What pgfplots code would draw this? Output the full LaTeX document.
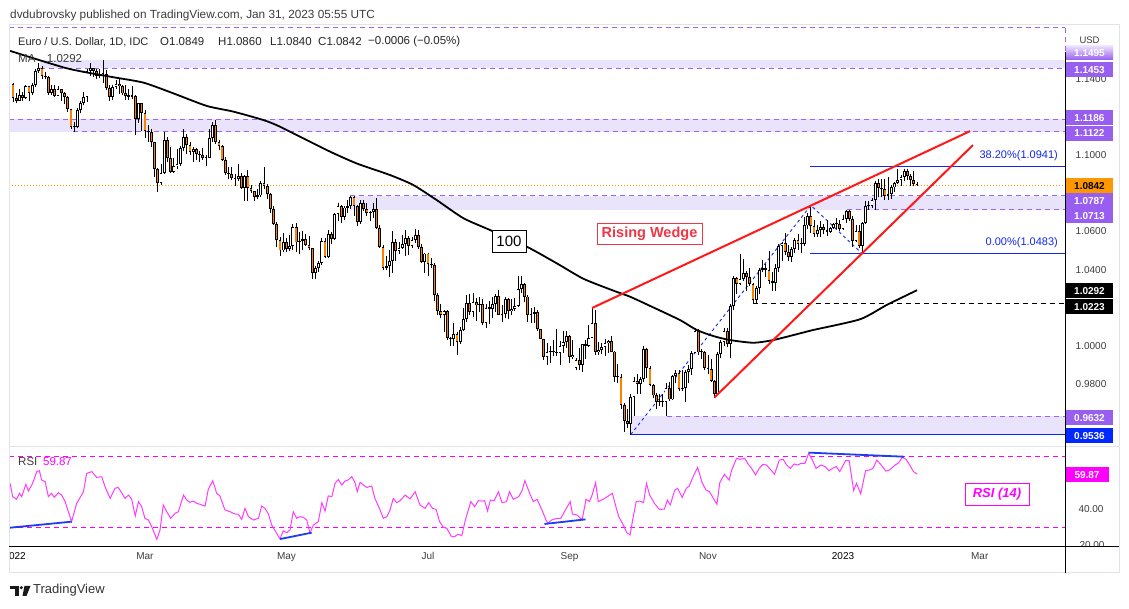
\documentclass[border=0pt]{standalone}
\usepackage{pgfplots}
\pgfplotsset{compat=1.18}
\usepackage{pgfplotstable}
\usepackage{fontspec}
\setmainfont{Liberation Sans}

\definecolor{bandfill}{RGB}{233,227,252}
\definecolor{banddash}{RGB}{155,100,245}
\definecolor{bandbox}{RGB}{152,94,240}
\definecolor{candleorange}{RGB}{250,130,0}
\definecolor{curorange}{RGB}{255,152,0}
\definecolor{wedgered}{RGB}{255,25,25}
\definecolor{labelred}{RGB}{242,54,69}
\definecolor{fibblue}{RGB}{20,40,235}
\definecolor{lowblue}{RGB}{0,40,255}
\definecolor{rsimag}{RGB}{255,60,255}
\definecolor{rsidash}{RGB}{255,0,255}
\definecolor{divblue}{RGB}{30,60,240}
\definecolor{framegray}{RGB}{224,227,235}
\definecolor{txtgray}{RGB}{60,60,60}

\newcommand\fs[1]{\fontsize{#1}{#1}\selectfont}

\pgfplotsset{
  candle/.style={draw=none, mark=none, forget plot,
    error bars/.cd, y dir=plus, y explicit, error mark=none,
    error bar style={solid, line cap=butt, #1}},
}

% EUR/USD daily candles, index 0 = 3 Jan 2022
\pgfplotstableread{
i o h l c
0 1.1370 1.1376 1.1280 1.1296
1 1.1296 1.1322 1.1273 1.1285
2 1.1285 1.1346 1.1284 1.1312
3 1.1312 1.1332 1.1285 1.1297
4 1.1297 1.1364 1.1292 1.1360
5 1.1360 1.1362 1.1285 1.1325
6 1.1325 1.1375 1.1314 1.1368
7 1.1368 1.1449 1.1356 1.1442
8 1.1442 1.1482 1.1428 1.1455
9 1.1455 1.1464 1.1399 1.1413
10 1.1413 1.1434 1.1397 1.1409
11 1.1409 1.1414 1.1313 1.1325
12 1.1325 1.1368 1.1313 1.1344
13 1.1344 1.1369 1.1303 1.1311
14 1.1311 1.1363 1.1310 1.1344
15 1.1344 1.1347 1.1285 1.1325
16 1.1325 1.1330 1.1265 1.1302
17 1.1302 1.1308 1.1226 1.1241
18 1.1241 1.1243 1.1135 1.1145
19 1.1145 1.1174 1.1121 1.1145
20 1.1145 1.1247 1.1139 1.1234
21 1.1234 1.1281 1.1218 1.1272
22 1.1272 1.1331 1.1260 1.1303
23 1.1303 1.1451 1.1280 1.1440
24 1.1440 1.1483 1.1412 1.1455
25 1.1455 1.1457 1.1409 1.1441
26 1.1441 1.1448 1.1398 1.1415
27 1.1415 1.1449 1.1404 1.1423
28 1.1423 1.1495 1.1375 1.1425
29 1.1425 1.1444 1.1340 1.1349
30 1.1349 1.1367 1.1281 1.1306
31 1.1306 1.1366 1.1290 1.1358
32 1.1358 1.1395 1.1345 1.1374
33 1.1374 1.1396 1.1320 1.1360
34 1.1360 1.1367 1.1313 1.1322
35 1.1322 1.1367 1.1286 1.1307
36 1.1307 1.1343 1.1287 1.1306
37 1.1306 1.1360 1.1293 1.1307
38 1.1307 1.1312 1.1106 1.1191
39 1.1191 1.1274 1.1168 1.1272
40 1.1272 1.1272 1.1126 1.1219
41 1.1219 1.1234 1.1090 1.1125
42 1.1125 1.1155 1.1070 1.1120
43 1.1120 1.1134 1.1040 1.1066
44 1.1066 1.1067 1.0885 1.0929
45 1.0929 1.0932 1.0806 1.0855
46 1.0855 1.0955 1.0845 1.0905
47 1.0905 1.1121 1.0901 1.1076
48 1.1076 1.1096 1.0962 1.0983
49 1.0983 1.1040 1.0904 1.0912
50 1.0912 1.0982 1.0905 1.0942
51 1.0942 1.1030 1.0927 1.0955
52 1.0955 1.1045 1.0942 1.1035
53 1.1035 1.1137 1.1023 1.1092
54 1.1092 1.1112 1.1003 1.1050
55 1.1050 1.1070 1.1002 1.1016
56 1.1016 1.1043 1.0962 1.1030
57 1.1030 1.1038 1.0976 1.1005
58 1.1005 1.1023 1.0964 1.0998
59 1.0998 1.1037 1.0975 1.0983
60 1.0983 1.0999 1.0944 1.0984
61 1.0984 1.1137 1.0983 1.1087
62 1.1087 1.1171 1.1067 1.1157
63 1.1157 1.1185 1.1060 1.1067
64 1.1067 1.1076 1.1026 1.1046
65 1.1046 1.1053 1.0968 1.0972
66 1.0972 1.0988 1.0897 1.0905
67 1.0905 1.0935 1.0872 1.0900
68 1.0900 1.0937 1.0868 1.0878
69 1.0878 1.0898 1.0836 1.0876
70 1.0876 1.0955 1.0865 1.0888
71 1.0888 1.0905 1.0822 1.0827
72 1.0827 1.0893 1.0758 1.0888
73 1.0888 1.0924 1.0757 1.0827
74 1.0827 1.0845 1.0800 1.0810
75 1.0810 1.0812 1.0760 1.0778
76 1.0778 1.0822 1.0769 1.0788
77 1.0788 1.0866 1.0778 1.0853
78 1.0853 1.0936 1.0823 1.0836
79 1.0836 1.0848 1.0770 1.0796
80 1.0796 1.0799 1.0697 1.0715
81 1.0715 1.0735 1.0634 1.0638
82 1.0638 1.0650 1.0516 1.0557
83 1.0557 1.0572 1.0471 1.0500
84 1.0500 1.0594 1.0491 1.0545
85 1.0545 1.0565 1.0491 1.0506
86 1.0506 1.0579 1.0495 1.0525
87 1.0525 1.0640 1.0505 1.0625
88 1.0625 1.0642 1.0493 1.0542
89 1.0542 1.0598 1.0483 1.0550
90 1.0550 1.0601 1.0503 1.0560
91 1.0560 1.0588 1.0525 1.0530
92 1.0530 1.0578 1.0503 1.0512
93 1.0512 1.0515 1.0353 1.0380
94 1.0380 1.0421 1.0349 1.0410
95 1.0410 1.0446 1.0389 1.0436
96 1.0436 1.0563 1.0426 1.0552
97 1.0552 1.0564 1.0461 1.0465
98 1.0465 1.0607 1.0462 1.0585
99 1.0585 1.0598 1.0532 1.0562
100 1.0562 1.0697 1.0557 1.0690
101 1.0690 1.0748 1.0657 1.0735
102 1.0735 1.0736 1.0643 1.0676
103 1.0676 1.0733 1.0660 1.0725
104 1.0725 1.0765 1.0695 1.0733
105 1.0733 1.0787 1.0719 1.0780
106 1.0780 1.0787 1.0680 1.0733
107 1.0733 1.0737 1.0627 1.0650
108 1.0650 1.0765 1.0641 1.0750
109 1.0750 1.0765 1.0706 1.0718
110 1.0718 1.0750 1.0683 1.0696
111 1.0696 1.0708 1.0653 1.0704
112 1.0704 1.0749 1.0672 1.0715
113 1.0715 1.0773 1.0612 1.0617
114 1.0617 1.0634 1.0514 1.0518
115 1.0518 1.0530 1.0398 1.0409
116 1.0409 1.0470 1.0397 1.0418
117 1.0418 1.0505 1.0359 1.0445
118 1.0445 1.0601 1.0381 1.0546
119 1.0546 1.0561 1.0443 1.0496
120 1.0496 1.0545 1.0484 1.0514
121 1.0514 1.0583 1.0509 1.0535
122 1.0535 1.0606 1.0469 1.0565
123 1.0565 1.0577 1.0474 1.0522
124 1.0522 1.0569 1.0514 1.0554
125 1.0554 1.0615 1.0539 1.0583
126 1.0583 1.0606 1.0510 1.0518
127 1.0518 1.0534 1.0437 1.0442
128 1.0442 1.0487 1.0382 1.0484
129 1.0484 1.0487 1.0366 1.0428
130 1.0428 1.0463 1.0407 1.0425
131 1.0425 1.0436 1.0235 1.0266
132 1.0266 1.0276 1.0161 1.0184
133 1.0184 1.0220 1.0144 1.0160
134 1.0160 1.0186 1.0072 1.0185
135 1.0185 1.0190 1.0033 1.0040
136 1.0040 1.0045 0.9999 1.0036
137 1.0036 1.0120 0.9998 1.0061
138 1.0061 1.0071 0.9952 1.0019
139 1.0019 1.0097 1.0008 1.0083
140 1.0083 1.0200 1.0078 1.0141
141 1.0141 1.0269 1.0123 1.0226
142 1.0226 1.0273 1.0160 1.0178
143 1.0178 1.0278 1.0154 1.0229
144 1.0229 1.0253 1.0130 1.0212
145 1.0212 1.0258 1.0180 1.0221
146 1.0221 1.0248 1.0108 1.0121
147 1.0121 1.0219 1.0096 1.0200
148 1.0200 1.0234 1.0113 1.0196
149 1.0196 1.0254 1.0144 1.0222
150 1.0222 1.0274 1.0180 1.0260
151 1.0260 1.0294 1.0161 1.0164
152 1.0164 1.0212 1.0123 1.0167
153 1.0167 1.0254 1.0145 1.0246
154 1.0246 1.0253 1.0141 1.0181
155 1.0181 1.0248 1.0160 1.0195
156 1.0195 1.0249 1.0185 1.0211
157 1.0211 1.0368 1.0204 1.0297
158 1.0297 1.0368 1.0275 1.0322
159 1.0322 1.0330 1.0229 1.0259
160 1.0259 1.0268 1.0123 1.0160
161 1.0160 1.0201 1.0122 1.0170
162 1.0170 1.0202 1.0120 1.0178
163 1.0178 1.0189 1.0080 1.0088
164 1.0088 1.0090 1.0034 1.0037
165 1.0037 1.0039 0.9926 0.9940
166 0.9940 1.0018 0.9901 0.9966
167 0.9966 0.9999 0.9910 0.9970
168 0.9970 1.0030 0.9949 0.9967
169 0.9967 1.0090 0.9950 0.9965
170 0.9965 1.0028 0.9900 1.0001
171 1.0001 1.0079 0.9965 1.0019
172 1.0019 1.0080 0.9990 1.0054
173 1.0054 1.0057 0.9910 0.9944
174 0.9944 1.0033 0.9932 0.9955
175 0.9885 0.9935 0.9876 0.9927
176 0.9927 0.9988 0.9875 0.9902
177 0.9902 1.0012 0.9863 1.0010
178 1.0010 1.0030 0.9930 1.0001
179 1.0001 1.0112 0.9995 1.0042
180 1.0042 1.0198 1.0040 1.0121
181 1.0121 1.0187 0.9955 0.9968
182 0.9968 1.0019 0.9955 0.9980
183 0.9980 1.0017 0.9956 0.9995
184 0.9995 1.0037 0.9945 1.0015
185 1.0015 1.0030 0.9965 1.0028
186 1.0028 1.0051 0.9967 0.9971
187 0.9971 0.9976 0.9810 0.9838
188 0.9838 0.9907 0.9807 0.9837
189 0.9837 0.9852 0.9668 0.9689
190 0.9689 0.9699 0.9552 0.9608
191 0.9608 0.9669 0.9573 0.9592
192 0.9592 0.9749 0.9536 0.9735
193 0.9735 0.9838 0.9636 0.9815
194 0.9815 0.9853 0.9749 0.9802
195 0.9802 0.9838 0.9751 0.9826
196 0.9826 0.9999 0.9813 0.9986
197 0.9986 0.9990 0.9835 0.9885
198 0.9885 0.9894 0.9788 0.9794
199 0.9794 0.9799 0.9727 0.9741
200 0.9741 0.9752 0.9669 0.9706
201 0.9706 0.9749 0.9686 0.9706
202 0.9706 0.9749 0.9681 0.9706
203 0.9706 0.9807 0.9632 0.9779
204 0.9779 0.9809 0.9711 0.9720
205 0.9720 0.9850 0.9716 0.9842
206 0.9842 0.9875 0.9804 0.9859
207 0.9859 0.9875 0.9763 0.9773
208 0.9773 0.9873 0.9766 0.9780
209 0.9780 0.9873 0.9705 0.9862
210 0.9862 0.9898 0.9808 0.9878
211 0.9878 0.9976 0.9850 0.9965
212 0.9965 1.0094 0.9961 1.0078
213 1.0078 1.0088 0.9952 0.9966
214 0.9966 0.9986 0.9932 0.9966
215 0.9966 0.9976 0.9873 0.9884
216 0.9884 0.9953 0.9854 0.9877
217 0.9877 0.9931 0.9810 0.9818
218 0.9818 0.9820 0.9730 0.9749
219 0.9749 0.9966 0.9745 0.9960
220 0.9960 1.0033 0.9935 1.0021
221 1.0021 1.0093 0.9998 1.0076
222 1.0076 1.0096 0.9994 1.0010
223 1.0010 1.0222 0.9935 1.0209
224 1.0209 1.0364 1.0187 1.0355
225 1.0355 1.0363 1.0271 1.0325
226 1.0325 1.0481 1.0317 1.0351
227 1.0351 1.0453 1.0340 1.0380
228 1.0380 1.0390 1.0290 1.0363
229 1.0363 1.0407 1.0314 1.0325
230 1.0325 1.0330 1.0223 1.0241
231 1.0241 1.0312 1.0226 1.0304
232 1.0304 1.0406 1.0274 1.0397
233 1.0397 1.0448 1.0385 1.0407
234 1.0407 1.0431 1.0363 1.0398
235 1.0398 1.0497 1.0325 1.0339
236 1.0339 1.0389 1.0290 1.0330
237 1.0330 1.0429 1.0289 1.0406
238 1.0406 1.0533 1.0389 1.0523
239 1.0523 1.0545 1.0443 1.0538
240 1.0538 1.0594 1.0478 1.0492
241 1.0492 1.0527 1.0443 1.0466
242 1.0466 1.0519 1.0442 1.0507
243 1.0507 1.0563 1.0485 1.0555
244 1.0555 1.0588 1.0505 1.0535
245 1.0535 1.0566 1.0485 1.0536
246 1.0536 1.0673 1.0523 1.0631
247 1.0631 1.0694 1.0612 1.0680
248 1.0680 1.0736 1.0593 1.0626
249 1.0626 1.0660 1.0573 1.0585
250 1.0585 1.0634 1.0570 1.0605
251 1.0605 1.0656 1.0572 1.0623
252 1.0623 1.0637 1.0585 1.0606
253 1.0606 1.0661 1.0574 1.0597
254 1.0597 1.0625 1.0591 1.0617
255 1.0617 1.0646 1.0610 1.0637
256 1.0637 1.0670 1.0612 1.0641
257 1.0641 1.0660 1.0602 1.0613
258 1.0613 1.0685 1.0606 1.0664
259 1.0664 1.0714 1.0645 1.0705
260 1.0705 1.0713 1.0653 1.0664
261 1.0664 1.0683 1.0519 1.0552
262 1.0552 1.0633 1.0546 1.0603
263 1.0603 1.0636 1.0512 1.0524
264 1.0524 1.0649 1.0483 1.0645
265 1.0645 1.0760 1.0638 1.0734
266 1.0734 1.0760 1.0713 1.0735
267 1.0735 1.0777 1.0722 1.0762
268 1.0762 1.0866 1.0710 1.0853
269 1.0853 1.0875 1.0780 1.0829
270 1.0829 1.0874 1.0781 1.0820
271 1.0820 1.0874 1.0766 1.0787
272 1.0787 1.0887 1.0766 1.0795
273 1.0795 1.0842 1.0767 1.0830
274 1.0830 1.0858 1.0805 1.0855
275 1.0855 1.0927 1.0849 1.0871
276 1.0871 1.0895 1.0837 1.0885
277 1.0885 1.0926 1.0865 1.0915
278 1.0915 1.0929 1.0871 1.0891
279 1.0891 1.0901 1.0839 1.0868
280 1.0868 1.0915 1.0836 1.0846
281 1.0849 1.0860 1.0840 1.0842
}\ohlc

\begin{document}
\begin{tikzpicture}[x=1pt,y=1pt]
\useasboundingbox (0,0) rectangle (1129,609);
\fill[white] (0,0) rectangle (1129,609);

% ---------------- price panel ----------------
\begin{axis}[
  at={(9pt,162pt)}, anchor=south west,
  width=1056pt, height=422pt, scale only axis,
  xmin=-1.243, xmax=327, ymin=0.94712, ymax=1.16806,
  axis line style={draw=none},
  xtick=\empty,
  ytick={0.98,1.0,1.04,1.06,1.1,1.14},
  yticklabel pos=right,
  major tick length=0pt,
  yticklabel={\pgfmathprintnumber[fixed,fixed zerofill,precision=4,assume math mode=true]{\tick}},
  yticklabel style={font=\fs{10}, text=txtgray, anchor=center, xshift=26pt},
]
% zones
\fill[bandfill] (axis cs:8.4,1.1453) rectangle (axis cs:327,1.1495);
\fill[bandfill] (axis cs:-1.243,1.1122) rectangle (axis cs:327,1.1186);
\fill[bandfill] (axis cs:104.8,1.0713) rectangle (axis cs:327,1.0787);
\fill[bandfill] (axis cs:191.8,0.9536) rectangle (axis cs:327,0.9632);
\addplot[banddash, line width=1pt, dash pattern=on 5pt off 4pt] coordinates {(-1.243,1.1665) (327,1.1665)};
\addplot[banddash, line width=1pt, dash pattern=on 5pt off 4pt] coordinates {(8.4,1.1453) (327,1.1453)};
\addplot[banddash, line width=1pt, dash pattern=on 5pt off 4pt] coordinates {(-1.243,1.1186) (327,1.1186)};
\addplot[banddash, line width=1pt, dash pattern=on 5pt off 4pt] coordinates {(18.7,1.1122) (327,1.1122)};
\addplot[banddash, line width=1pt, dash pattern=on 5pt off 4pt] coordinates {(104.8,1.0787) (327,1.0787)};
\addplot[banddash, line width=1pt, dash pattern=on 5pt off 4pt] coordinates {(259.3,1.0713) (327,1.0713)};
\addplot[banddash, line width=1pt, dash pattern=on 5pt off 4pt] coordinates {(203.3,0.9632) (327,0.9632)};
\addplot[lowblue, line width=1pt] coordinates {(191.8,0.9536) (327,0.9536)};
% current price, fib, support
\addplot[curorange, line width=1pt, dash pattern=on 1pt off 2pt] coordinates {(-1.243,1.0842) (327,1.0842)};
\addplot[fibblue, line width=1pt] coordinates {(247.7,1.0941) (327,1.0941)};
\addplot[fibblue, line width=1pt] coordinates {(247.7,1.0483) (327,1.0483)};
\addplot[black, line width=1pt, dash pattern=on 5pt off 4pt] coordinates {(230,1.0223) (327,1.0223)};
\addplot[fibblue, line width=0.9pt, dash pattern=on 3pt off 3pt] coordinates {(192,0.9536) (248,1.0736) (264,1.0483)};
% candles: wick, body outline, bull fill, bear fill
\addplot[candle={draw=black, line width=0.8pt}] table[x=i, y=l, y error plus expr=\thisrow{h}-\thisrow{l}] {\ohlc};
\addplot[candle={draw=black, line width=2.8pt}] table[x=i, y expr={min(\thisrow{o},\thisrow{c})}, y error plus expr={max(abs(\thisrow{c}-\thisrow{o}),0.0006)}] {\ohlc};
\addplot[candle={draw=white, line width=1.3pt}] table[x=i, y expr={\thisrow{o}+0.0005}, y error plus expr={max(\thisrow{c}-\thisrow{o}-0.001,0)}] {\ohlc};
\addplot[candle={draw=candleorange, line width=1.3pt}] table[x=i, y expr={\thisrow{c}+0.0005}, y error plus expr={max(\thisrow{o}-\thisrow{c}-0.001,0)}] {\ohlc};
% 100-day MA
\addplot[black, line width=1.8pt, smooth, tension=0.4] coordinates {
(-0.9,1.1545) (16.7,1.1454) (30.2,1.1410) (40.5,1.1379) (49.8,1.1323) (60.2,1.1257)
(68.5,1.1227) (77.8,1.1183) (83.0,1.1148) (97.5,1.1026) (106.8,1.0956) (117.2,1.0895)
(124.4,1.0843) (131.7,1.0764) (140.0,1.0669) (148.3,1.0607) (159.7,1.0520) (169.0,1.0433)
(177.3,1.0352) (186.6,1.0290) (191.8,1.0258) (198.0,1.0210) (207.3,1.0136) (212.5,1.0084)
(217.7,1.0052) (222.9,1.0031) (230.1,1.0017) (236.3,1.0031) (244.6,1.0066) (248.8,1.0084)
(263.3,1.0140) (271.6,1.0215) (281.0,1.0292)};
% rising wedge
\addplot[wedgered, line width=2pt] coordinates {(180,1.0199) (297.5,1.1125)};
\addplot[wedgered, line width=2pt] coordinates {(218,0.9730) (298.4,1.1052)};
\end{axis}

% ---------------- RSI panel ----------------
\begin{axis}[
  at={(9pt,62pt)}, anchor=south west,
  width=1056pt, height=100pt, scale only axis,
  xmin=-1.243, xmax=327, ymin=18.73, ymax=75.07,
  axis line style={draw=none},
  xtick={0.5,41,85,129,173,216,258,300.5},
  xticklabels={\textcolor{black}{2022},Mar,May,Jul,Sep,Nov,\textcolor{black}{2023},Mar},
  xticklabel style={font=\fs{10}, text=txtgray, yshift=-2pt},
  ytick={40},
  yticklabel pos=right,
  major tick length=0pt,
  yticklabel={\pgfmathprintnumber[fixed,fixed zerofill,precision=2,assume math mode=true]{\tick}},
  yticklabel style={font=\fs{10}, text=txtgray, anchor=center, xshift=26pt},
]
\addplot[rsidash, line width=0.9pt, dash pattern=on 5pt off 4pt] coordinates {(-1.243,70) (327,70)};
\addplot[rsidash, line width=0.9pt, dash pattern=on 5pt off 4pt] coordinates {(-1.243,30) (327,30)};
\addplot[rsimag, line width=1pt] coordinates {
(-0.9,54.6)(-0.1,47.1)(1.1,45.6)(2.0,49.0)(2.7,47.1)(4.0,54.0)(4.8,50.3)(6.1,54.6)(7.4,61.2)(8.2,61.7)
(8.9,56.5)(10.0,55.5)(11.0,47.1)(12.0,49.0)(12.8,46.7)(14.1,49.3)(15.1,48.0)(16.2,44.3)(17.2,38.6)(18.2,33.0)
(19.8,43.3)(21.9,49.9)(22.9,60.2)(24.5,61.2)(26.0,58.0)(27.6,58.3)(28.6,52.7)(30.2,46.1)(31.7,51.8)(32.7,52.3)
(33.8,49.3)(34.8,46.1)(35.9,48.0)(36.9,45.6)(38.0,36.2)(39.0,44.3)(40.0,41.4)(41.0,34.9)(42.1,33.9)(43.1,30.2)
(44.7,23.0)(45.7,28.3)(46.7,42.4)(47.8,38.6)(49.0,34.9)(50.4,37.7)(51.4,38.6)(53.0,48.0)(54.0,45.2)(55.0,43.9)
(56.1,44.6)(57.1,43.3)(58.1,42.8)(59.7,41.8)(60.7,51.2)(62.1,56.1)(63.3,49.0)(64.3,47.5)(65.9,39.6)(67.5,38.6)
(69.0,37.3)(70.0,37.3)(71.1,34.3)(72.1,40.5)(73.2,35.8)(74.7,33.9)(76.3,34.9)(77.3,41.8)(78.3,40.5)(79.4,37.3)
(80.4,31.1)(82.0,26.4)(83.0,23.2)(84.0,27.9)(85.1,26.8)(86.1,28.3)(87.1,38.6)(88.2,34.9)(89.2,35.8)(90.3,35.4)
(91.3,33.9)(92.3,26.8)(93.4,31.1)(94.9,33.0)(96.0,43.7)(97.0,39.0)(98.0,47.5)(99.1,47.1)(100.1,54.6)(101.1,56.8)
(102.2,53.6)(103.2,55.9)(104.2,56.5)(105.3,58.4)(106.3,55.0)(107.0,49.9)(107.9,55.2)(108.9,53.6)(110.0,52.3)(111.5,53.1)
(112.5,46.1)(114.1,39.6)(115.1,34.9)(116.2,35.8)(117.2,39.6)(118.2,46.1)(119.3,43.7)(120.3,44.8)(121.9,48.0)(123.4,45.8)
(125.0,49.9)(126.5,42.4)(128.1,40.5)(129.2,43.7)(130.4,40.5)(131.5,39.9)(132.6,33.0)(133.8,29.8)(134.9,29.2)(136.1,24.9)
(137.2,24.5)(138.3,25.9)(139.5,25.1)(140.6,33.9)(142.3,44.3)(143.5,41.4)(144.6,44.8)(145.8,44.6)(146.6,44.8)(147.5,39.0)
(148.4,45.2)(149.5,44.8)(150.9,49.9)(152.0,43.7)(153.4,44.3)(154.3,49.9)(155.5,45.6)(157.2,47.1)(158.3,50.8)(159.1,56.1)
(160.6,49.0)(161.7,44.3)(162.9,45.6)(164.4,39.6)(165.7,33.9)(166.3,32.1)(167.4,33.9)(169.2,34.9)(170.3,34.9)(171.4,38.6)
(173.2,44.3)(173.9,37.3)(175.4,36.7)(176.9,33.9)(178.1,45.6)(179.2,44.3)(180.0,48.0)(181.1,55.0)(181.9,44.3)(183.4,45.6)
(185.1,47.5)(186.3,49.0)(187.4,41.4)(188.3,35.8)(189.7,31.1)(190.8,26.8)(191.8,25.5)(192.6,33.9)(193.7,44.3)(194.8,44.6)
(196.0,43.7)(196.9,54.6)(197.9,48.0)(199.4,43.3)(200.9,39.9)(202.5,40.1)(203.4,45.2)(204.3,42.4)(205.7,50.8)(206.6,51.8)
(208.0,46.7)(209.3,51.8)(210.2,53.1)(211.4,58.3)(212.8,63.6)(214.2,55.0)(215.4,50.8)(216.5,49.9)(217.7,46.1)(218.8,42.8)
(219.7,55.0)(221.1,59.7)(222.6,56.5)(223.4,62.1)(224.9,68.7)(226.0,68.1)(227.4,68.7)(228.5,65.5)(229.6,63.0)(230.8,59.3)
(231.9,63.0)(233.1,65.3)(234.2,64.9)(235.4,62.5)(236.7,59.7)(238.2,67.7)(239.4,68.1)(240.5,64.9)(241.6,63.0)(242.8,65.5)
(243.9,64.9)(245.0,65.9)(246.2,65.9)(247.3,71.5)(248.5,67.7)(249.6,63.0)(251.1,64.9)(252.5,64.0)(253.6,61.7)(254.7,63.0)
(255.9,64.0)(257.0,61.2)(258.8,67.4)(259.9,67.4)(261.3,50.6)(262.2,54.6)(263.5,48.6)(265.0,61.7)(266.2,62.1)(267.3,63.0)
(268.5,67.7)(269.6,65.5)(271.3,61.5)(272.4,62.1)(274.2,64.9)(275.3,66.2)(276.4,69.2)(277.6,68.1)(278.7,64.9)(279.9,61.2)
(281.0,59.9)};
% divergences
\addplot[divblue, line width=1.8pt] coordinates {(-0.93,29.6) (18.25,33.0)};
\addplot[divblue, line width=1.8pt] coordinates {(83.0,23.2) (92.85,26.8)};
\addplot[divblue, line width=1.8pt] coordinates {(165.2,31.7) (177.95,34.3)};
\addplot[divblue, line width=1.8pt] coordinates {(247.3,71.9) (277,69.6)};
\end{axis}

% partially hidden 20.00 label
\node[font=\fs{10}, text=txtgray] at (1092,64) {20.00};
\fill[white] (1066,36.5) rectangle (1118.5,61.5);
% clip left edge
\fill[white] (0,0) rectangle (8.5,609);

% frame and axis lines
\draw[framegray, line width=1pt] (9,36) rectangle (1119,584);
\draw[framegray, line width=1pt] (9,162) -- (1119,162);
\draw[black, line width=1pt] (1065,36) -- (1065,557);
\draw[banddash, line width=1pt, dash pattern=on 5pt off 4pt] (1065,581) -- (1065,557);
\draw[black, line width=1pt] (9,62) -- (1119,62);

% right-hand price labels
\tikzset{pbox/.style={minimum width=47pt, minimum height=15pt, inner sep=0pt, font=\fs{10}\bfseries, text=white}}
\node[font=\fs{9.5}, text=txtgray, anchor=west] at (1076,569) {USD};
\shade[top color=bandbox!20, bottom color=bandbox] (1066,549) rectangle (1113,563);
\node[font=\fs{10}\bfseries, text=white] at (1089.5,556) {1.1495};
\node[pbox, fill=bandbox] at (1089.5,539) {1.1453};
\node[pbox, fill=bandbox] at (1089.5,491) {1.1186};
\node[pbox, fill=bandbox] at (1089.5,475.5) {1.1122};
\node[pbox, fill=curorange, text=black] at (1089.5,423) {1.0842};
\node[pbox, fill=bandbox] at (1089.5,408) {1.0787};
\node[pbox, fill=bandbox] at (1089.5,393) {1.0713};
\node[pbox, fill=black] at (1089.5,318) {1.0292};
\node[pbox, fill=black] at (1089.5,302) {1.0223};
\node[pbox, fill=bandbox] at (1089.5,191) {0.9632};
\node[pbox, fill=lowblue] at (1089.5,173) {0.9536};
\node[pbox, fill=rsidash, minimum width=43pt] at (1087,134) {59.87};

% header and legends
\node[font=\fs{11.8}, text=txtgray, anchor=west, inner sep=0pt] at (10,594) {dvdubrovsky published on TradingView.com, Jan 31, 2023 05:55 UTC};
\node[font=\fs{11}, text=black!85, anchor=west, inner sep=0pt] at (18,567) {Euro / U.S. Dollar, 1D, IDC};
\node[font=\fs{11.5}, text=black!85, anchor=west, inner sep=0pt] at (160,567) {O1.0849};
\node[font=\fs{11.5}, text=black!85, anchor=west, inner sep=0pt] at (218,567) {H1.0860};
\node[font=\fs{11.5}, text=black!85, anchor=west, inner sep=0pt] at (270,567) {L1.0840};
\node[font=\fs{11.5}, text=black!85, anchor=west, inner sep=0pt] at (318,567) {C1.0842};
\node[font=\fs{11.5}, text=black!85, anchor=west, inner sep=0pt] at (368,567) {−0.0006 (−0.05\%)};
\node[font=\fs{11.5}, text=txtgray, anchor=west, inner sep=0pt] at (18,550) {MA\quad 1.0292};
\node[font=\fs{11.5}, text=txtgray, anchor=west, inner sep=0pt] at (18,147) {RSI\enspace\textcolor{rsidash}{59.87}};

% chart annotations
\node[draw=black, fill=white, line width=0.8pt, font=\fs{15}, minimum width=34pt, minimum height=22pt, inner sep=0pt] at (509,368) {100};
\node[draw=labelred, fill=white, line width=0.8pt, text=labelred, font=\fs{14.5}\bfseries, minimum width=105pt, minimum height=21pt, inner sep=0pt] at (649.5,375.5) {Rising Wedge};
\node[draw=rsidash, fill=white, line width=0.8pt, text=rsidash, font=\fs{13}\bfseries\itshape, minimum width=64pt, minimum height=22pt, inner sep=0pt] at (997,115) {RSI (14)};
\node[font=\fs{11}, text=fibblue, anchor=east, inner sep=0pt] at (1058,453) {38.20\%(1.0941)};
\node[font=\fs{11}, text=fibblue, anchor=east, inner sep=0pt] at (1058,366) {0.00\%(1.0483)};

% TradingView logo
\fill[black!90] (10,23) rectangle (19,19.5);
\fill[black!90] (15,19.5) rectangle (19,13);
\fill[black!90] (21.3,21.3) circle (1.7);
\fill[black!90] (24.5,23) -- (30.5,23) -- (26.5,13) -- (22.5,13) -- cycle;
\node[font=\fs{13}, text=black!80, anchor=west, inner sep=0pt] at (33,19) {TradingView};
\end{tikzpicture}
\end{document}
